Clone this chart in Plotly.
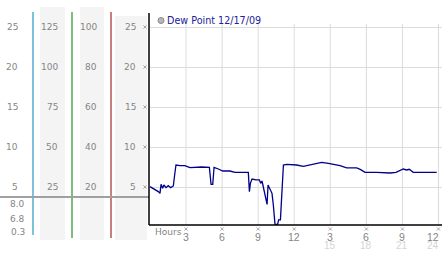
import plotly.graph_objects as go

# ---------------- data ----------------
hours = [0, 0.28, 0.69, 0.83, 0.92, 1.05, 1.16, 1.33, 1.52, 1.72,
         1.94, 2.05, 2.16, 2.5, 2.9, 3.33, 3.74, 4.3, 4.94, 5.08,
         5.22, 5.33, 5.69, 6.05, 6.66, 7.07, 7.49, 8.18, 8.27, 8.35,
         8.49, 8.82, 9.1, 9.21, 9.32, 9.49, 9.65, 9.74, 9.82, 9.98,
         10.15, 10.26, 10.4, 10.62, 10.7, 10.85, 10.96, 11.1, 11.37, 11.65,
         12.2, 12.76, 13.31, 13.87, 14.28, 14.84, 15.39, 15.81, 16.36, 16.92,
         17.2, 17.53, 17.89, 18.86, 19.97, 20.47, 21.07, 21.35, 21.57, 21.9,
         23.85]
dew_point = [5.04, 4.83, 4.42, 4.21, 5.33, 4.83, 5.25, 4.92, 5.17, 4.92,
             5.13, 6.5, 7.75, 7.67, 7.67, 7.42, 7.46, 7.5, 7.46, 5.33,
             5.33, 7.46, 7.25, 7.0, 7.0, 6.83, 6.83, 6.83, 4.42, 5.46,
             6.0, 5.88, 5.88, 5.46, 5.75, 4.63, 3.79, 2.83, 5.25, 4.83,
             4.21, 2.75, 0.33, 0.33, 0.88, 0.9, 4.42, 7.75, 7.83, 7.83,
             7.75, 7.58, 7.75, 8.0, 8.08, 7.95, 7.83, 7.67, 7.38, 7.33,
             7.38, 7.17, 6.83, 6.83, 6.75, 6.83, 7.25, 7.13, 7.21, 6.83,
             6.83]
assert len(hours) == len(dew_point)

series_name = "Dew Point 12/17/09"
y_ticks = [25, 20, 15, 10, 5]
col1_labels = ["25", "20", "15", "10", "5"]
col2_labels = ["125", "100", "75", "50", "25"]
col3_labels = ["100", "80", "60", "40", "20"]
col4_labels = ["25", "20", "15", "10", "5"]
stat_labels = ["8.0", "6.8", "0.3"]
x_ticks = [3, 6, 9, 12, 15, 18, 21, 24]
x_labels = ["3", "6", "9", "12", "3", "6", "9", "12"]
x_ticks2 = [15, 18, 21, 24]
x_labels2 = ["15", "18", "21", "24"]
x_title = "Hours"

# ---------------- geometry helpers ----------------
W, H = 442, 253
L, R, T, B = 150, 0, 13, 28
PW, PH = W - L - R, H - T - B
PX_PER_HOUR = 12.02
Y0, Y1 = 0.25, 26.75
PX_PER_UNIT = PH / (Y1 - Y0)


def px(x):
    return (x - L) / PW


def py(y):
    return (H - B - y) / PH


FONT = "DejaVu Sans"
XFONT = "Liberation Sans"
GRAY = "#858585"
MARKCOL = "#a8a8a8"

fig = go.Figure()
fig.add_trace(go.Scatter(x=hours, y=dew_point, mode="lines",
                         line=dict(color="#000088", width=1.3),
                         showlegend=False, hoverinfo="skip"))

shapes = []
annotations = []

# left panel background bands
for x0, x1, y0 in [(40, 65, 7), (80, 104, 7), (115, 147, 16)]:
    shapes.append(dict(type="rect", xref="paper", yref="paper",
                       x0=px(x0), x1=px(x1), y0=py(240), y1=py(y0),
                       fillcolor="#f4f4f4", line=dict(width=0), layer="below"))
# coloured separator lines
for x, col, yb in [(33, "#3aa0c8", 235), (72, "#3a9a3a", 238), (111, "#a83a3a", 238)]:
    shapes.append(dict(type="line", xref="paper", yref="paper",
                       x0=px(x), x1=px(x), y0=py(yb), y1=py(12),
                       line=dict(color=col, width=1.3)))
# gray horizontal separator
shapes.append(dict(type="line", xref="paper", yref="paper",
                   x0=px(0), x1=px(149), y0=py(197), y1=py(197),
                   line=dict(color="#a0a0a0", width=2)))

# vertical gridlines (start below legend)
for xv in x_ticks:
    shapes.append(dict(type="line", xref="x", yref="paper",
                       x0=xv, x1=xv, y0=0, y1=py(24),
                       line=dict(color="#dcdcdc", width=1), layer="below"))

# black axis lines
shapes.append(dict(type="line", xref="paper", yref="paper",
                   x0=px(149), x1=px(149), y0=0, y1=1,
                   line=dict(color="black", width=1.5)))
shapes.append(dict(type="line", xref="paper", yref="paper",
                   x0=px(149), x1=1, y0=0, y1=0,
                   line=dict(color="black", width=1.5)))

# small tick marks (tiny crosses)
d = 1.6
for yv in y_ticks:
    cx = px(145)
    dx = d / PW
    dy = d / PX_PER_UNIT
    shapes.append(dict(type="path", xref="paper", yref="y",
                       path=f"M {cx-dx} {yv-dy} L {cx+dx} {yv+dy} M {cx-dx} {yv+dy} L {cx+dx} {yv-dy}",
                       line=dict(color=MARKCOL, width=1)))
for xv in x_ticks:
    cy = py(229)
    dx = d / PX_PER_HOUR
    dy = d / PH
    shapes.append(dict(type="path", xref="x", yref="paper",
                       path=f"M {xv-dx} {cy-dy} L {xv+dx} {cy+dy} M {xv-dx} {cy+dy} L {xv+dx} {cy-dy}",
                       line=dict(color=MARKCOL, width=1)))

# legend marker
shapes.append(dict(type="circle", xref="paper", yref="paper",
                   x0=px(158), x1=px(164), y0=py(23.5), y1=py(17.5),
                   fillcolor="#b8b8b8", line=dict(color="#888888", width=1)))
annotations.append(dict(x=px(165), y=py(20.5), xref="paper", yref="paper",
                        text=series_name, showarrow=False, xanchor="left",
                        yanchor="middle",
                        font=dict(family=FONT, size=9.6, color="#22229a")))

# left panel column labels
for labels, xr in [(col1_labels, 20), (col2_labels, 60), (col3_labels, 99), (col4_labels, 138)]:
    for lab, yv in zip(labels, y_ticks):
        annotations.append(dict(x=px(xr), y=yv, xref="paper", yref="y",
                                text=lab, showarrow=False, xanchor="right",
                                yanchor="middle",
                                font=dict(family=FONT, size=9, color=GRAY)))

# stats
for lab, yy in zip(stat_labels, [204, 219, 232]):
    annotations.append(dict(x=px(27), y=py(yy), xref="paper", yref="paper",
                            text=lab, showarrow=False, xanchor="right",
                            yanchor="middle",
                            font=dict(family=FONT, size=9, color=GRAY)))

# x tick labels
for xv, lab in zip(x_ticks, x_labels):
    last = xv == x_ticks[-1]
    annotations.append(dict(x=px(441) if last else xv, y=py(236.5), xref="paper" if last else "x",
                            yref="paper", text=lab, showarrow=False,
                            xanchor="right" if last else "center", yanchor="middle",
                            font=dict(family=XFONT, size=10.5, color=GRAY)))
for xv, lab in zip(x_ticks2, x_labels2):
    last = xv == x_ticks2[-1]
    annotations.append(dict(x=px(441) if last else xv, y=py(245.5), xref="paper" if last else "x",
                            yref="paper", text=lab, showarrow=False,
                            xanchor="right" if last else "center", yanchor="middle",
                            font=dict(family=XFONT, size=10, color="#d4d4d4")))
annotations.append(dict(x=px(153), y=py(232), xref="paper", yref="paper",
                        text=x_title, showarrow=False, xanchor="left",
                        yanchor="middle",
                        font=dict(family=FONT, size=9, color=GRAY)))

fig.update_layout(
    width=W, height=H,
    margin=dict(l=L, r=R, t=T, b=B),
    paper_bgcolor="white", plot_bgcolor="white",
    xaxis=dict(range=[0, PW / PX_PER_HOUR], showgrid=False, zeroline=False,
               showticklabels=False, ticks="", showline=False, fixedrange=True),
    yaxis=dict(range=[Y0, Y1], tickvals=y_ticks, showgrid=True,
               gridcolor="#dcdcdc", gridwidth=1, zeroline=False,
               showticklabels=False, ticks="", showline=False, fixedrange=True),
    shapes=shapes, annotations=annotations, showlegend=False,
)

fig.write_html("out.html", config={"displayModeBar": False})
